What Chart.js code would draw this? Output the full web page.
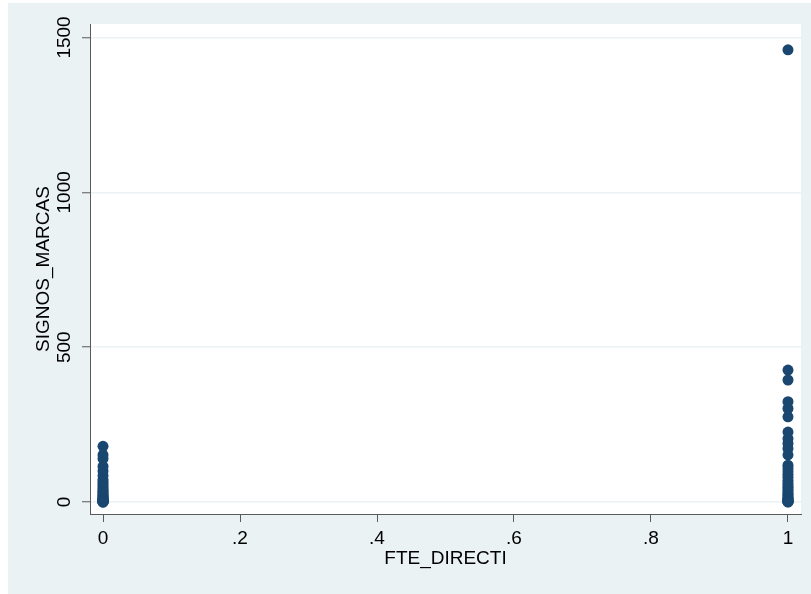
<!DOCTYPE html>
<html>
<head>
<meta charset="utf-8">
<script src="https://cdn.jsdelivr.net/npm/chart.js@4.4.1/dist/chart.umd.min.js"></script>
<style>
  html, body { margin: 0; padding: 0; background: #ffffff; }
  #wrap { width: 811px; height: 594px; }
</style>
</head>
<body>
<div id="wrap"><canvas id="myChart" width="811" height="594"></canvas></div>
<script>
// FTE_DIRECTI = 0 / 1, SIGNOS_MARCAS values
const signosAtZero = [180, 152, 140, 115, 100, 85, 72, 65, 58, 52, 45, 40, 35, 30, 26, 22, 18, 15, 12, 10, 8, 6, 5, 4, 3, 2, 2, 1, 1, 0, 0];
const signosAtOne = [1460, 426, 394, 324, 302, 275, 226, 205, 189, 173, 152, 119, 110, 100, 90, 80, 70, 62, 55, 48, 42, 36, 30, 25, 20, 16, 12, 9, 6, 4, 3, 2, 1, 1, 0];
const xTicks = [0, 0.2, 0.4, 0.6, 0.8, 1];
const yTicks = [0, 500, 1000, 1500];
const xTitle = 'FTE_DIRECTI';
const yTitle = 'SIGNOS_MARCAS';

const points = signosAtZero.map(v => ({x: 0, y: v}))
   .concat(signosAtOne.map(v => ({x: 1, y: v})));

const FONT = '"Liberation Sans", Arial, Helvetica, sans-serif';
const BG = '#eaf2f3';
const AXIS = '#5a5a5a';

// stata-like background: light outer region, white plot region
const backgroundPlugin = {
   id: 'stataBackground',
   beforeDraw(chart) {
      const ctx = chart.ctx;
      const a = chart.chartArea;
      ctx.save();
      ctx.fillStyle = '#ffffff';
      ctx.fillRect(0, 0, chart.width, chart.height);
      ctx.fillStyle = BG;
      ctx.fillRect(8, 3, chart.width - 8, chart.height - 3);
      ctx.fillStyle = '#ffffff';
      ctx.fillRect(a.left, a.top, a.right - a.left, a.bottom - a.top);
      ctx.restore();
   }
};

function fmtX(v) {
   if (v === 0) return '0';
   if (v === 1) return '1';
   return '.' + Math.round(v * 10);
}

const ctx = document.getElementById('myChart').getContext('2d');
new Chart(ctx, {
   type: 'scatter',
   data: {
      datasets: [{
         label: yTitle,
         data: points,
         backgroundColor: '#1a476f',
         borderColor: '#1a476f',
         borderWidth: 0,
         pointRadius: 5.5,
         pointHoverRadius: 5.5
      }]
   },
   plugins: [backgroundPlugin],
   options: {
      responsive: false,
      animation: false,
      layout: {padding: {left: 8, top: 24, right: 10, bottom: 0}},
      plugins: {legend: {display: false}, tooltip: {enabled: false}},
      scales: {
         x: {
            type: 'linear',
            min: -0.019,
            max: 1.019,
            afterBuildTicks: s => { s.ticks = xTicks.map(v => ({value: v})); },
            afterFit: s => { s.height = 80; },
            border: {display: true, color: AXIS, width: 1},
            grid: {drawOnChartArea: false, tickLength: 8, tickColor: AXIS, tickWidth: 1},
            ticks: {
               autoSkip: false,
               maxRotation: 0,
               padding: 5,
               color: '#000',
               font: {family: FONT, size: 19},
               callback: v => fmtX(v)
            },
            title: {
               display: true,
               text: xTitle,
               color: '#000',
               font: {family: FONT, size: 19},
               padding: {top: 0, bottom: 24}
            }
         },
         y: {
            type: 'linear',
            min: -38.7,
            max: 1543.5,
            afterBuildTicks: s => { s.ticks = yTicks.map(v => ({value: v})); },
            afterFit: s => { s.width = 82; },
            border: {display: true, color: AXIS, width: 1},
            grid: {color: BG, lineWidth: 1.5, tickLength: 8, tickColor: AXIS, tickWidth: 1},
            ticks: {
               autoSkip: false,
               minRotation: 90,
               maxRotation: 90,
               crossAlign: 'center',
               padding: -4,
               color: '#000',
               font: {family: FONT, size: 19},
               callback: v => String(v)
            },
            title: {
               display: true,
               text: yTitle,
               color: '#000',
               font: {family: FONT, size: 19},
               padding: {top: 24, bottom: 0}
            }
         }
      }
   }
});
</script>
</body>
</html>
